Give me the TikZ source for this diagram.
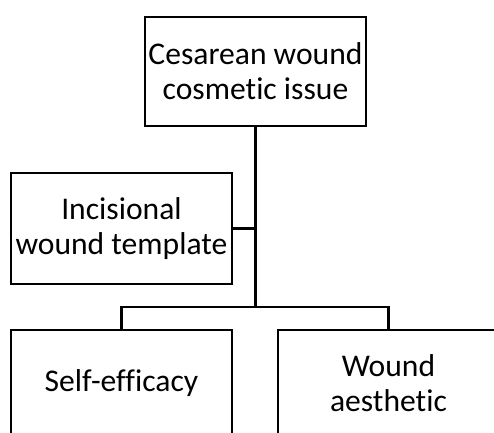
\documentclass[tikz,border=0pt]{standalone}
\usepackage{fontspec}
\setmainfont{Carlito}[Ligatures=NoCommon]
\usetikzlibrary{positioning,calc}
\tikzstyle{block}=[align=center, draw=black, line width=1pt, rectangle, minimum width=110.5pt, inner sep=0pt, font=\fontsize{15.8}{17.5}\selectfont]
\tikzstyle{box}=[block, minimum height=54.5pt]
\tikzstyle{tree line}=[line width=1.2pt]

\begin{document}
\begin{tikzpicture}[x=0.5pt,y=-0.5pt]
\useasboundingbox (0,0) rectangle (494,433);
\clip (0,0) rectangle (494,433);

\node[box] (cosmetic) at (255.5,71.5) {Cesarean wound\\cosmetic issue};
\node[box, minimum height=55.5pt] (template) at (121.5,228.5) {Incisional\\wound template};
\node[box, minimum height=53pt] (selfeff) at (121.5,383) {Self-efficacy};
\node[box, minimum height=53pt] (aesthetic) at (388.5,383) {Wound\\aesthetic};

\coordinate (bar) at (255.5,307);

\draw[tree line] (cosmetic) -- (cosmetic |- bar);
\draw[tree line] (template) -- (template -| cosmetic);
\draw[tree line] (selfeff.north) -- (selfeff.north |- bar) -- (aesthetic.north |- bar) -- (aesthetic.north);

\end{tikzpicture}
\end{document}
